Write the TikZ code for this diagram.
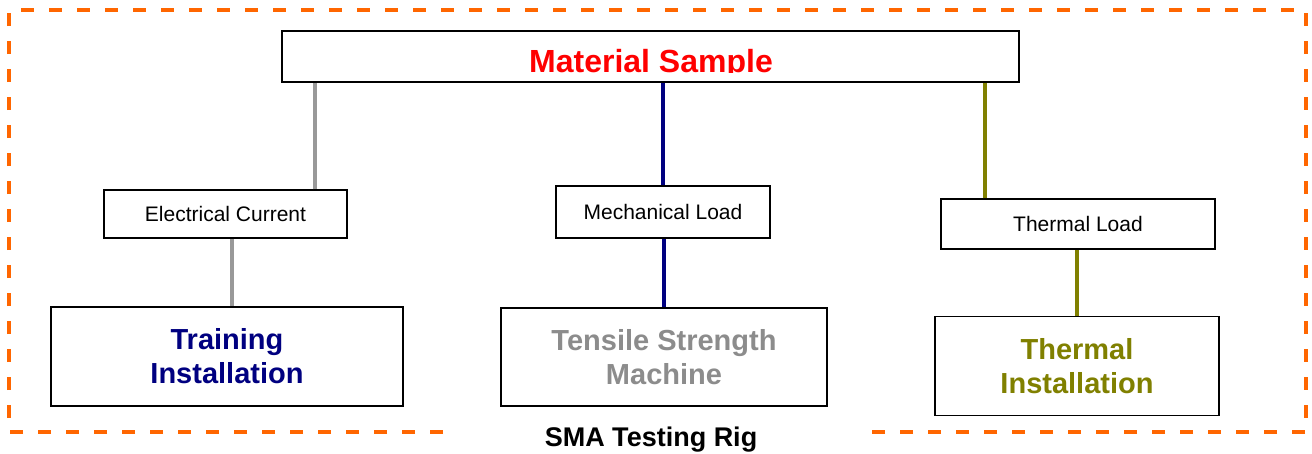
\documentclass[tikz,border=0pt]{standalone}
\usepackage{fontspec}
\setmainfont{Liberation Sans}
\definecolor{rigorange}{HTML}{FF6600}
\definecolor{linegray}{HTML}{999999}
\definecolor{textgray}{HTML}{8C8C8C}
\definecolor{olive}{HTML}{808000}
\definecolor{navy}{HTML}{000080}
\tikzset{
    smallbox/.style={draw, line width=1.5pt, fill=white, font=\fontsize{21}{25}\selectfont},
    bigbox/.style={draw, line width=1.8pt, fill=white, align=center,
        font=\fontsize{29}{34}\selectfont\bfseries},
    link/.style={line width=3.5pt}
}
\begin{document}
\begin{tikzpicture}[x=1pt,y=-1pt]

    \useasboundingbox (0,0) rectangle (1312,453);

    %draw rig frame:
    \draw[rigorange, line width=3.2pt, dash pattern=on 13pt off 15pt]
        (443,432) -- (9,432) -- (9,10) -- (1306,10) -- (1306,432) -- (865,432);
    \node[font=\fontsize{27}{32}\selectfont\bfseries, anchor=base] (rig) at (651,446) {SMA Testing Rig};

    %draw sample:
    \node[draw, line width=1.8pt, minimum width=737pt, minimum height=51pt] (sample) at (650.5,56.5) {};
    \begin{scope}
        \clip (282,31) rectangle (1019,72.5);
        \node[red, font=\fontsize{32}{38}\selectfont\bfseries, anchor=base] (sampleLabel) at (651,72) {Material Sample};
    \end{scope}

    %draw loads:
    \node[smallbox, minimum width=243pt, minimum height=48pt] (elec) at (225.5,214) {Electrical Current};
    \node[smallbox, minimum width=214pt, minimum height=52pt] (mech) at (663,212) {Mechanical Load};
    \node[smallbox, minimum width=274pt, minimum height=50pt] (therm) at (1078,224) {Thermal Load};

    %draw installations:
    \node[bigbox, text=navy, minimum width=352pt, minimum height=99pt] (train) at (227,356.5) {Training\\Installation};
    \node[bigbox, text=textgray, minimum width=326pt, minimum height=98pt] (tensile) at (664,357) {Tensile Strength\\Machine};
    \node[bigbox, text=olive, minimum width=284pt, minimum height=99pt] (thermInst) at (1077,366) {Thermal\\Installation};

    %draw links:
    \coordinate (elecTop) at ([xshift=89.5pt]elec.north);
    \coordinate (thermTop) at ([xshift=-93pt]therm.north);
    \draw[link, linegray] (elecTop) -- (elecTop |- sample.south);
    \draw[link, linegray] ([xshift=5pt]train.north) -- ([xshift=5pt]train.north |- elec.south);
    \draw[link, navy] (mech.north) -- (mech.north |- sample.south);
    \draw[link, navy] (tensile.north) -- (tensile.north |- mech.south);
    \draw[link, olive] (thermTop) -- (thermTop |- sample.south);
    \draw[link, olive] (thermInst.north) -- (thermInst.north |- therm.south);

\end{tikzpicture}
\end{document}
